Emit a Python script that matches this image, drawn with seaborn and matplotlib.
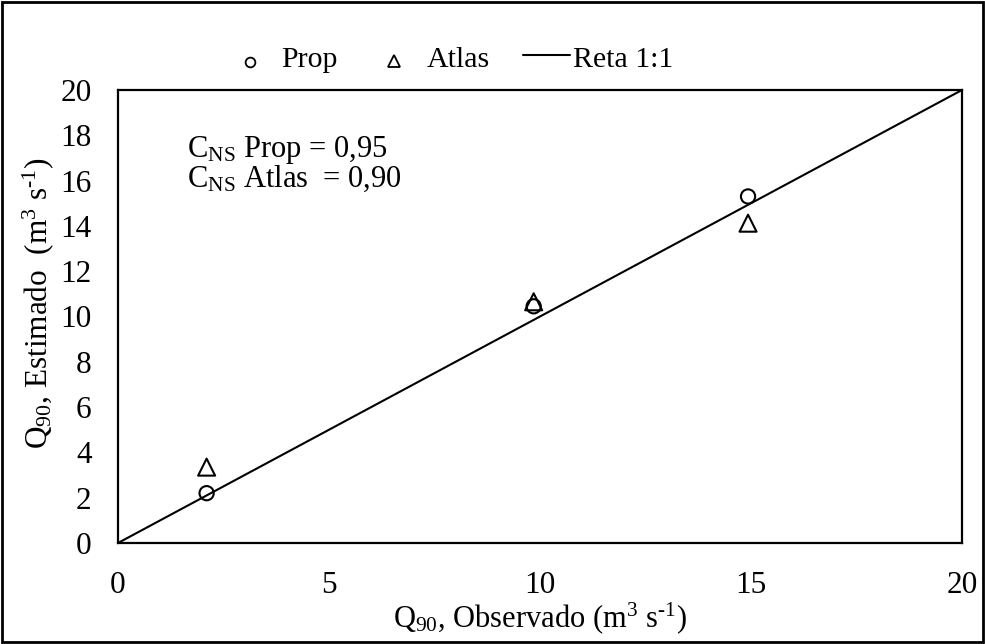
import matplotlib
matplotlib.use("Agg")
import matplotlib.pyplot as plt
import seaborn as sns
import pandas as pd
from matplotlib.lines import Line2D
from matplotlib.patches import Rectangle

sns.set_theme(style="white")
plt.rcParams['font.family'] = ['Liberation Serif', 'DejaVu Serif']
plt.rcParams['mathtext.fontset'] = 'custom'
plt.rcParams['mathtext.rm'] = 'Liberation Serif'
plt.rcParams['mathtext.it'] = 'Liberation Serif:italic'

observed = [2.1, 9.85, 14.93]
prop_est = [2.2, 10.45, 15.3]
atlas_est = [3.35, 10.65, 14.12]
line_x = [0, 20]
line_y = [0, 20]
xticks = [0, 5, 10, 15, 20]
yticks = [0, 2, 4, 6, 8, 10, 12, 14, 16, 18, 20]
legend_labels = ["Prop", "Atlas", "Reta 1:1"]

df = pd.DataFrame({
    "obs": observed * 2,
    "est": prop_est + atlas_est,
    "serie": ["Prop"] * 3 + ["Atlas"] * 3,
})
line_df = pd.DataFrame({"x": line_x, "y": line_y})

W, H = 985, 644
fx = lambda px: px / W
fy = lambda py: 1 - py / H

fig = plt.figure(figsize=(9.85, 6.44), dpi=100)
ax = fig.add_axes([fx(118), fy(543), fx(962) - fx(118), fy(90) - fy(543)])

sns.lineplot(data=line_df, x="x", y="y", ax=ax, color="black", linewidth=1.5)
sns.scatterplot(data=df, x="obs", y="est", style="serie", size="serie",
                markers={"Prop": "o", "Atlas": "^"},
                sizes={"Prop": 105, "Atlas": 150},
                color="black", linewidth=1.5, ax=ax, legend=False)
for coll in ax.collections:
    coll.set_facecolor("none")
    coll.set_edgecolor("black")

ax.set_xlim(0, 20)
ax.set_ylim(0, 20)
ax.set_xticks(xticks)
ax.set_yticks(yticks)
ax.tick_params(axis="y", labelsize=22.5, length=0, pad=19, colors="black")
ax.tick_params(axis="x", labelsize=22.5, length=0, pad=20, colors="black")
for sp in ax.spines.values():
    sp.set_visible(True)
    sp.set_color("black")
    sp.set_linewidth(1.6)

ax.set_xlabel("Q$_{90}$, Observado (m$^{3}$ s$^{\\text{-1}}$)", fontsize=22, color="black")
ax.xaxis.set_label_coords(0.5, (fy(625) - fy(543)) / (fy(90) - fy(543)) - 0.005,
                          transform=ax.transAxes)
ax.xaxis.label.set_va("baseline")
ax.set_ylabel("Q$_{90}$, Estimado  (m$^{3}$ s$^{\\text{-1}}$)", fontsize=22.5, color="black")
ax.yaxis.set_label_coords((fx(38) - fx(118)) / (fx(962) - fx(118)), 0.53)
ax.yaxis.label.set_va("center")

fig.text(fx(187), fy(157), "C$_{\\mathrm{NS}}$ Prop = 0,95", fontsize=22,
         va="baseline", ha="left", color="black")
fig.text(fx(187), fy(187), "C$_{\\mathrm{NS}}$ Atlas  = 0,90", fontsize=22,
         va="baseline", ha="left", color="black")

# legend drawn above the plot area
fig.add_artist(Line2D([fx(250)], [fy(62)], transform=fig.transFigure, linestyle="none",
                      marker="o", markersize=7, markerfacecolor="none",
                      markeredgecolor="black", markeredgewidth=1.3))
fig.add_artist(Line2D([fx(394)], [fy(61)], transform=fig.transFigure, linestyle="none",
                      marker="^", markersize=8.5, markerfacecolor="none",
                      markeredgecolor="black", markeredgewidth=1.3))
fig.add_artist(Line2D([fx(523), fx(570)], [fy(55), fy(55)], transform=fig.transFigure,
                      color="black", linewidth=1.5))
for px, lab in zip([281, 427, 573], legend_labels):
    fig.text(fx(px), fy(67), lab, fontsize=21.5, va="baseline", ha="left", color="black")

fig.patches.append(Rectangle((fx(2), fy(642)), fx(983) - fx(2), fy(2) - fy(642),
                             transform=fig.transFigure, fill=False,
                             edgecolor="black", linewidth=2))

fig.savefig("out.png", dpi=100)
